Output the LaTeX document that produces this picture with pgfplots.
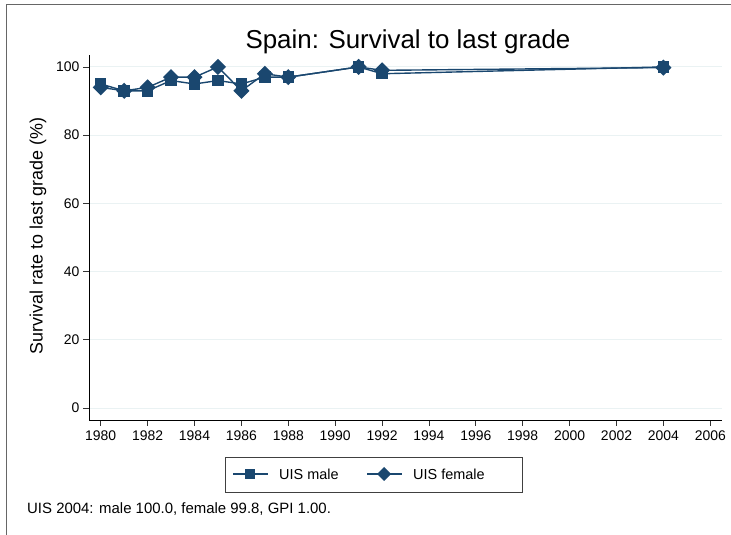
\documentclass[border=0pt]{standalone}
\usepackage{pgfplots}
\pgfplotsset{compat=1.18}
\usepackage{fontspec}
\setmainfont{Liberation Sans}
\definecolor{stnavy}{RGB}{26,71,111}
\definecolor{stgrid}{RGB}{234,242,243}
\begin{document}
\begin{tikzpicture}[x=1bp,y=1bp]
\useasboundingbox (0,0) rectangle (731,535);
\draw[gray!80!black,line width=1bp] (6,0) -- (6,530) -- (731,530);
\node[anchor=base, inner sep=0pt, font=\fontsize{26}{30}\selectfont] at (408,486) {Spain: Survival to last grade};
\node[rotate=90, inner sep=0pt, font=\fontsize{18}{20}\selectfont] at (38,299) {Survival rate to last grade (\%)};
\begin{axis}[
  at={(89bp,115bp)}, anchor=south west,
  scale only axis, width=633bp, height=365bp,
  xmin=1979.5, xmax=2006.5, ymin=-3.5, ymax=103.5,
  axis x line*=bottom, axis y line*=left,
  axis line style={black, line width=0.7pt},
  xtick={1980,1982,...,2006}, ytick={0,20,...,100},
  x tick label style={/pgf/number format/1000 sep={}, yshift=-1bp},
  /pgf/number format/assume math mode=true,
  tick label style={font=\fontsize{14}{16}\selectfont},
  tick align=outside, major tick length=6bp,
  tick style={black!80, line width=0.7pt},
  ymajorgrids, grid style={stgrid, line width=0.9pt},
  clip=false,
]
\addplot[stnavy, line width=1.4pt, mark=square*, mark size=5bp, mark options={fill=stnavy, solid}] coordinates {
(1980,95) (1981,93) (1982,93) (1983,96) (1984,95) (1985,96) (1986,95) (1987,97) (1988,97) (1991,100) (1992,98) (2004,100)};
\addplot[stnavy, line width=1.4pt, mark=square*, mark size=5bp, mark options={fill=stnavy, rotate=45, solid}] coordinates {
(1980,94) (1981,93) (1982,94) (1983,97) (1984,97) (1985,100) (1986,93) (1987,98) (1988,97) (1991,100) (1992,99) (2004,99.8)};
\end{axis}
\draw[black!75, line width=0.7pt] (225,43) rectangle (522,78);
\draw[stnavy, line width=1.4pt] (233,61) -- (268,61);
\fill[stnavy] (250-5,61-5) rectangle (250+5,61+5);
\node[anchor=west, inner sep=0pt, font=\fontsize{14.5}{16}\selectfont] at (279,61) {UIS male};
\draw[stnavy, line width=1.4pt] (367,61) -- (402,61);
\fill[stnavy] (384,61-7) -- (384+7,61) -- (384,61+7) -- (384-7,61) -- cycle;
\node[anchor=west, inner sep=0pt, font=\fontsize{14.5}{16}\selectfont] at (413,61) {UIS female};
\node[anchor=base west, inner sep=0pt, font=\fontsize{15}{17}\selectfont] at (27,21) {UIS 2004: male 100.0, female 99.8, GPI 1.00.};
\end{tikzpicture}
\end{document}
